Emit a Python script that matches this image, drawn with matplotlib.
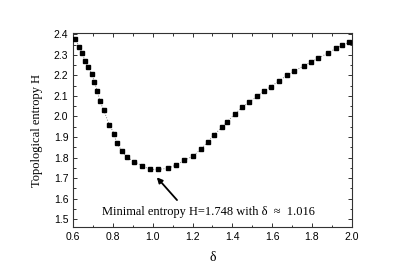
import matplotlib
matplotlib.use('Agg')
import matplotlib.pyplot as plt
from matplotlib.ticker import MultipleLocator, FormatStrFormatter

# delta values and topological entropy
delta = [0.609, 0.630, 0.644, 0.659, 0.674, 0.694, 0.706, 0.721, 0.734, 0.753,
         0.781, 0.805, 0.818, 0.846, 0.870, 0.907, 0.945, 0.986, 1.026, 1.075,
         1.115, 1.158, 1.203, 1.241, 1.276, 1.309, 1.348, 1.371, 1.411, 1.448,
         1.486, 1.525, 1.557, 1.594, 1.636, 1.673, 1.711, 1.760, 1.794, 1.832,
         1.881, 1.921, 1.952, 1.988]
entropy = [2.379, 2.340, 2.310, 2.271, 2.239, 2.208, 2.169, 2.125, 2.075, 2.031,
           1.961, 1.917, 1.871, 1.831, 1.801, 1.780, 1.761, 1.742, 1.742, 1.748,
           1.763, 1.786, 1.808, 1.840, 1.876, 1.912, 1.948, 1.972, 2.010, 2.044,
           2.071, 2.098, 2.123, 2.146, 2.174, 2.200, 2.221, 2.247, 2.265, 2.284,
           2.309, 2.332, 2.346, 2.362]

note = 'Minimal entropy H=1.748 with \u03b4  \u2248  1.016'

plt.rcParams['font.family'] = ['Liberation Sans', 'DejaVu Sans']

fig = plt.figure(figsize=(4.09, 2.73), dpi=100)
ax = fig.add_axes([0.179, 0.167, 0.681, 0.711])

ax.plot(delta, entropy, linestyle=':', color='gray', lw=0.7,
        marker='s', ms=3.1, mfc='black', mec='black', zorder=3)

ax.set_xlim(0.6, 2.0)
ax.set_ylim(1.46, 2.405)
ax.xaxis.set_major_locator(MultipleLocator(0.2))
ax.xaxis.set_minor_locator(MultipleLocator(0.1))
ax.yaxis.set_major_locator(MultipleLocator(0.1))
ax.yaxis.set_minor_locator(MultipleLocator(0.05))
ax.xaxis.set_major_formatter(FormatStrFormatter('%.1f'))
ax.yaxis.set_major_formatter(FormatStrFormatter('%.1f'))
ax.tick_params(which='both', direction='in', top=True, right=True,
               labelsize=7.5, color='#333333', width=0.7)
ax.tick_params(which='major', length=3, pad=3.5)
ax.tick_params(which='minor', length=1.8)
for s in ax.spines.values():
    s.set_linewidth(0.8)
    s.set_color('#333333')

ax.set_xlabel('\u03b4', family='Liberation Serif', fontsize=10, labelpad=6)
ax.set_ylabel('Topological entropy H', family='Liberation Serif', fontsize=9,
              labelpad=8)

ax.annotate('', xy=(1.011, 1.714), xytext=(1.131, 1.583),
            arrowprops=dict(arrowstyle='-|>', color='black', lw=1.3,
                            mutation_scale=8))
ax.text(0.743, 1.535, note, family='Liberation Serif', fontsize=8.9,
        va='center', ha='left')

fig.savefig('out.png', dpi=100)
